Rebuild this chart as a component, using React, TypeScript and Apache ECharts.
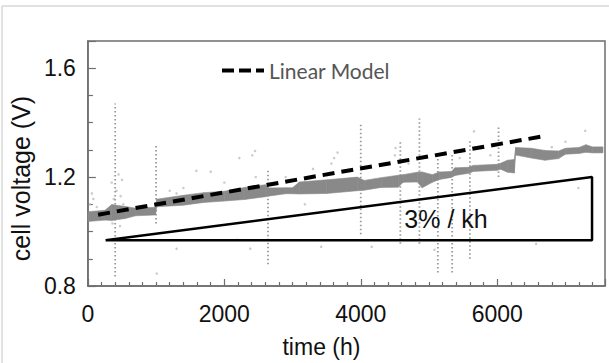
import React, { useEffect, useRef } from 'react';
import * as echarts from 'echarts';

const xTickLabels = [0, 2000, 4000, 6000];
const yTickLabels = [0.8, 1.2, 1.6];

// dense measured band (envelope)
const bandTime = [0, 250, 350, 550, 700, 990, 1010, 1400, 1700, 2000, 2300, 2600, 2640, 2900, 3000, 3100, 3500, 3950, 4050, 4300, 4550, 4620, 4830, 4900, 5050, 5150, 5330, 5380, 5580, 5650, 6000, 6050, 6150, 6250, 6270, 6500, 6700, 6900, 7000, 7200, 7300, 7400, 7550];
const bandLow = [1.037, 1.042, 1.041, 1.048, 1.058, 1.061, 1.091, 1.097, 1.107, 1.112, 1.118, 1.128, 1.130, 1.139, 1.139, 1.138, 1.140, 1.150, 1.152, 1.162, 1.163, 1.181, 1.182, 1.161, 1.181, 1.191, 1.199, 1.206, 1.214, 1.221, 1.225, 1.229, 1.218, 1.215, 1.281, 1.270, 1.262, 1.268, 1.284, 1.287, 1.291, 1.289, 1.289];
const bandHigh = [1.073, 1.078, 1.099, 1.092, 1.086, 1.089, 1.119, 1.133, 1.143, 1.148, 1.162, 1.172, 1.160, 1.161, 1.161, 1.182, 1.190, 1.200, 1.188, 1.198, 1.207, 1.209, 1.218, 1.219, 1.209, 1.219, 1.221, 1.234, 1.236, 1.243, 1.247, 1.251, 1.262, 1.265, 1.309, 1.306, 1.298, 1.296, 1.306, 1.309, 1.319, 1.311, 1.311];

// vertical outlier streaks
const spikeTime = [400, 1000, 2640, 4000, 4580, 4860, 5130, 5340, 5600, 6020];
const spikeLow = [0.835, 1.03, 0.88, 0.99, 0.955, 0.955, 0.85, 0.85, 0.9, 1.2];
const spikeHigh = [1.47, 1.32, 1.23, 1.4, 1.33, 1.415, 1.27, 1.29, 1.34, 1.39];

// scattered noise points
const noiseTime = [30, 80, 130, 60, 350, 420, 480, 380, 500, 450, 360, 470, 520, 1200, 1300, 1400, 1590, 1800, 1300, 2380, 2190, 2220, 2410, 2460, 1010, 3610, 3660, 3570, 4510, 4500, 3420, 4160, 3180, 2450, 5660, 6570, 7290, 7190, 5080, 2000, 2900, 3300, 4700, 5450, 5900, 6800, 7000];
const noiseVolt = [1.10, 1.12, 1.09, 1.14, 1.18, 1.15, 1.13, 1.12, 1.19, 1.21, 1.03, 1.02, 1.10, 1.15, 1.14, 1.16, 1.223, 1.22, 0.937, 0.937, 0.97, 1.27, 1.28, 1.20, 0.846, 1.27, 1.29, 1.25, 1.307, 1.28, 0.944, 0.944, 1.10, 1.296, 1.368, 0.955, 1.37, 1.16, 0.933, 1.18, 1.20, 1.23, 1.25, 1.27, 1.28, 1.31, 1.33];

// linear model and 3%/kh triangle
const modelTime = [150, 6720];
const modelVolt = [1.062, 1.352];
const triTime = [260, 7390, 7390, 260];
const triVolt = [0.968, 0.968, 1.2, 0.968];
const slopeLabelTime = [5250];
const slopeLabelVolt = [1.046];
const slopeLabelText = ['3% / kh'];

const FONT = "'Liberation Sans', Arial, sans-serif";

export default function App() {
  const ref = useRef<HTMLDivElement>(null);
  useEffect(() => {
    if (!ref.current) return;
    const chart = echarts.init(ref.current, null, { renderer: 'svg' });
    const n = bandTime.length;
    chart.setOption({
      animation: false,
      backgroundColor: '#ffffff',
      grid: {
        left: 80, top: 41, right: 4, bottom: 73,
        show: true, borderColor: '#6e6e6e', borderWidth: 1.5,
      },
      legend: {
        data: ['Linear Model'],
        left: 215, top: 55,
        itemWidth: 42, itemHeight: 14, itemGap: 4,
        itemStyle: { opacity: 0 },
        lineStyle: { color: '#000', width: 4, type: [12, 5] },
        textStyle: { fontFamily: "Lato, 'Open Sans', sans-serif", fontSize: 21, color: '#555' },
      },
      xAxis: {
        type: 'value', min: 0, max: 7580, interval: 2000,
        splitLine: { show: false },
        axisLine: { show: true, lineStyle: { color: '#6e6e6e', width: 1.5 } },
        axisTick: { show: true, inside: true, length: 7, lineStyle: { color: '#6e6e6e', width: 1.2 } },
        minorTick: { show: true, splitNumber: 10, length: 4, lineStyle: { color: '#6e6e6e', width: 1.2 } },
        axisLabel: {
          margin: 16, fontSize: 23, color: '#111', fontFamily: FONT, showMaxLabel: false,
          formatter: (v: number) => (xTickLabels.includes(Math.round(v)) ? String(Math.round(v)) : ''),
        },
        name: 'time (h)', nameLocation: 'middle', nameGap: 49,
        nameTextStyle: { fontSize: 23, color: '#111', fontFamily: FONT, padding: [0, 50, 0, 0] },
      },
      yAxis: {
        type: 'value', min: 0.8, max: 1.7, interval: 0.4,
        splitLine: { show: false },
        axisLine: { show: true, lineStyle: { color: '#6e6e6e', width: 1.5 } },
        axisTick: { show: true, inside: true, length: 8, lineStyle: { color: '#6e6e6e', width: 1.2 } },
        minorTick: { show: true, splitNumber: 4, length: 5, lineStyle: { color: '#6e6e6e', width: 1.2 } },
        axisLabel: {
          margin: 12, fontSize: 23, color: '#111', fontFamily: FONT, showMaxLabel: false,
          formatter: (v: number) => {
            const f = yTickLabels.find((t) => Math.abs(t - v) < 1e-6);
            return f !== undefined ? f.toFixed(1) : '';
          },
        },
        name: 'cell voltage (V)', nameLocation: 'middle', nameGap: 46,
        nameTextStyle: { fontSize: 25, color: '#111', fontFamily: FONT, padding: [0, 30, 0, 0] },
      },
      graphic: [
        { type: 'rect', shape: { x: 2, y: 6, width: 700, height: 500 }, style: { fill: 'none', stroke: '#c4c4c4', lineWidth: 1 }, silent: true },
      ],
      series: [
        {
          name: 'noise', type: 'scatter', symbolSize: 2.5, z: 1,
          itemStyle: { color: '#bdbdbd' },
          data: noiseTime.map((t, i) => [t, noiseVolt[i]]),
        },
        {
          name: 'spikes', type: 'custom', z: 2, clip: true,
          data: spikeTime.map((t, i) => [t, spikeLow[i], spikeHigh[i]]),
          encode: { x: 0, y: [1, 2] },
          renderItem: (params: any, api: any) => {
            const a = api.coord([api.value(0), api.value(1)]);
            const b = api.coord([api.value(0), api.value(2)]);
            return {
              type: 'line',
              shape: { x1: a[0], y1: a[1], x2: b[0], y2: b[1] },
              style: { stroke: '#9a9a9a', lineWidth: 1.8, lineDash: [1.5, 2.5] },
            };
          },
        },
        {
          name: 'band', type: 'custom', z: 3, clip: true,
          data: bandTime.map((t, i) => [t, bandLow[i], bandHigh[i]]),
          encode: { x: 0, y: [1, 2] },
          renderItem: (params: any, api: any) => {
            const i = params.dataIndex;
            if (i >= n - 1) return { type: 'group', children: [] };
            const p1 = api.coord([bandTime[i], bandLow[i]]);
            const p2 = api.coord([bandTime[i + 1], bandLow[i + 1]]);
            const p3 = api.coord([bandTime[i + 1], bandHigh[i + 1]]);
            const p4 = api.coord([bandTime[i], bandHigh[i]]);
            return {
              type: 'polygon',
              shape: { points: [p1, p2, p3, p4] },
              style: { fill: '#898989', stroke: '#898989', lineWidth: 0.6 },
            };
          },
        },
        {
          name: 'triangle', type: 'line', z: 4, symbol: 'none',
          lineStyle: { color: '#000', width: 2.5 },
          data: triTime.map((t, i) => [t, triVolt[i]]),
        },
        {
          name: 'slope', type: 'custom', z: 5, silent: true,
          data: slopeLabelTime.map((t, i) => [t, slopeLabelVolt[i]]),
          encode: { x: 0, y: 1 },
          renderItem: (params: any, api: any) => {
            const p = api.coord([api.value(0), api.value(1)]);
            return {
              type: 'text',
              x: p[0], y: p[1],
              style: {
                text: slopeLabelText[params.dataIndex], fill: '#111', fontSize: 25,
                fontFamily: FONT, align: 'center', verticalAlign: 'middle',
              },
            };
          },
        },
        {
          name: 'Linear Model', type: 'line', z: 6, symbol: 'none',
          lineStyle: { color: '#000', width: 4, type: [12, 7] },
          itemStyle: { color: '#000' },
          data: modelTime.map((t, i) => [t, modelVolt[i]]),
        },
      ],
    });
    return () => chart.dispose();
  }, []);
  return <div ref={ref} style={{ position: 'fixed', left: 0, top: 0, width: 609, height: 363 }} />;
}
